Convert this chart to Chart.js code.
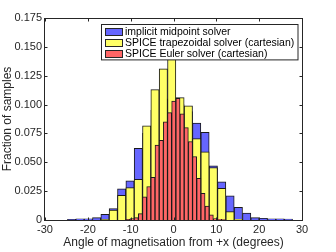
<!DOCTYPE html>
<html>
<head>
<meta charset="utf-8">
<script src="https://cdn.jsdelivr.net/npm/chart.js@4.4.1/dist/chart.umd.min.js"></script>
<style>
  html, body { margin: 0; padding: 0; background: #fff; }
  #wrap { width: 336px; height: 252px; }
</style>
</head>
<body>
<div id="wrap"><canvas id="histChart"></canvas></div>
<script>
// Histogram bins (degrees) and fractions of samples
const wideBinCentres = [
  -23.78, -21.83, -19.89, -17.94, -15.99, -14.05, -12.1, -10.15, -8.21,
  -6.26, -4.32, -2.37, -0.42, 1.52, 3.47, 5.41, 7.36, 9.3, 11.25, 13.2,
  15.14, 17.09, 19.03, 20.98, 22.93, 24.87, 26.82
];
const wideBinWidth = 1.946;

const midpointFractions = [
  0.0005, 0.001, 0.001, 0.002, 0.005, 0.0099, 0.027, 0.034, 0.062,
  0.075, 0.095, 0.105, 0.104, 0.1, 0.094, 0.084, 0.076, 0.047, 0.033, 0.021,
  0.011, 0.006, 0.002, 0.0015, 0.001, 0.001, 0.0008
];

const trapezoidalFractions = [
  null, null, null, null, 0.0005, 0.0087, 0.0214, 0.028, 0.0353,
  0.0815, 0.113, 0.131, 0.162, 0.106, 0.099, 0.0705, 0.059, 0.0455, 0.0275, 0.0072,
  0.0006, null, null, null, null, null, null
];

const eulerBinCentres = [
  -10.64, -9.67, -8.69, -7.72, -6.75, -5.77, -4.8, -3.83, -2.85, -1.88, -0.91, 0.06,
  1.04, 2.01, 2.98, 3.96, 4.93, 5.9, 6.88, 7.85, 8.82, 9.8, 10.77, 11.74
];
const eulerBinWidth = 0.973;

const eulerFractions = [
  0.0005, 0.0012, 0.002, 0.0055, 0.02, 0.029, 0.037, 0.065, 0.069, 0.085, 0.093, 0.103,
  0.1055, 0.092, 0.08, 0.068, 0.055, 0.036, 0.023, 0.012, 0.0045, 0.0012, 0.0006, 0.0003
];

const seriesNames = [
  "implicit midpoint solver",
  "SPICE trapezoidal solver (cartesian)",
  "SPICE Euler solver (cartesian)"
];
const seriesColours = ["rgb(102, 102, 255)", "rgb(255, 255, 102)", "rgb(255, 102, 102)"];

const yTickLabels = ["0", "0.025", "0.050", "0.075", "0.100", "0.125", "0.150", "0.175"];

const FONT = "'Liberation Sans', Arial, sans-serif";
const INK = "#262626";

function toPoints(xs, ys) {
  return xs.map((x, i) => ({ x: x, y: ys[i] }));
}

// Matlab style box with inward ticks on all four sides
const boxPlugin = {
  id: "box",
  afterDatasetsDraw(chart) {
    const { ctx, chartArea, scales } = chart;
    const l = Math.round(chartArea.left) - 0.5;
    const r = Math.round(chartArea.right) + 0.5;
    const t = Math.round(chartArea.top) + 0.5;
    const b = Math.round(chartArea.bottom) + 0.5;
    const len = 3;
    ctx.save();
    ctx.strokeStyle = INK;
    ctx.lineWidth = 1;
    ctx.strokeRect(l, t, r - l, b - t);
    ctx.beginPath();
    scales.x.ticks.forEach((tk) => {
      const px = Math.round(scales.x.getPixelForValue(tk.value)) + 0.5;
      ctx.moveTo(px, b); ctx.lineTo(px, b - len);
      ctx.moveTo(px, t); ctx.lineTo(px, t + len);
    });
    scales.y.ticks.forEach((tk) => {
      const py = Math.round(scales.y.getPixelForValue(tk.value)) + 0.5;
      ctx.moveTo(l, py); ctx.lineTo(l + len, py);
      ctx.moveTo(r, py); ctx.lineTo(r - len, py);
    });
    ctx.stroke();
    ctx.restore();
  },
  afterDraw(chart) {
    // legend box in the upper right of the axes, drawn over the bars
    const { ctx, chartArea } = chart;
    ctx.save();
    ctx.font = "10.5px " + FONT;
    const textW = Math.max(...seriesNames.map((s) => ctx.measureText(s).width));
    const rowH = 10.8;
    const boxR = Math.round(chartArea.right) - 4.5;
    const boxL = Math.round(boxR - textW - 27);
    const boxT = Math.round(chartArea.top) + 6.5;
    const boxB = boxT + rowH * seriesNames.length + 3;
    ctx.fillStyle = "#fff";
    ctx.fillRect(boxL + 0.5, boxT, boxR - boxL, boxB - boxT);
    ctx.strokeStyle = INK;
    ctx.strokeRect(boxL + 0.5, boxT, boxR - boxL, boxB - boxT);
    seriesNames.forEach((name, i) => {
      const cy = boxT + 2 + rowH * i + rowH / 2;
      ctx.fillStyle = seriesColours[i];
      ctx.fillRect(boxL + 4, Math.round(cy - 4), 18, 8);
      ctx.strokeStyle = INK;
      ctx.strokeRect(boxL + 4.5, Math.round(cy - 4) + 0.5, 17, 7);
      ctx.fillStyle = "#000";
      ctx.textBaseline = "middle";
      ctx.textAlign = "left";
      ctx.fillText(name, boxL + 24, cy + 0.5);
    });
    ctx.restore();
  }
};

const chart = new Chart(document.getElementById("histChart"), {
  type: "bar",
  data: {
    datasets: [
      {
        label: seriesNames[2],
        data: toPoints(eulerBinCentres, eulerFractions),
        backgroundColor: seriesColours[2],
        borderColor: "#1a1a1a",
        borderWidth: 1,
        grouped: false,
        order: 1
      },
      {
        label: seriesNames[1],
        data: toPoints(wideBinCentres, trapezoidalFractions),
        backgroundColor: seriesColours[1],
        borderColor: "#1a1a1a",
        borderWidth: 1,
        grouped: false,
        order: 2
      },
      {
        label: seriesNames[0],
        data: toPoints(wideBinCentres, midpointFractions),
        backgroundColor: seriesColours[0],
        borderColor: "#1a1a1a",
        borderWidth: 1,
        grouped: false,
        order: 3
      }
    ]
  },
  options: {
    responsive: true,
    maintainAspectRatio: false,
    animation: false,
    layout: { padding: { left: 0, right: 34, top: 18, bottom: 0 } },
    plugins: {
      legend: { display: false },
      tooltip: { enabled: false }
    },
    scales: {
      x: {
        type: "linear",
        min: -30,
        max: 30,
        offset: false,
        grid: { display: false, drawTicks: false },
        border: { display: false },
        ticks: {
          stepSize: 10,
          padding: 3,
          color: INK,
          font: { family: FONT, size: 11 },
          maxRotation: 0
        },
        title: {
          display: true,
          text: "Angle of magnetisation from +x (degrees)",
          color: INK,
          font: { family: FONT, size: 12 },
          padding: { top: 0, bottom: 2 }
        },
        afterFit(scale) { scale.height = 32; }
      },
      y: {
        min: 0,
        max: 0.175,
        grid: { display: false, drawTicks: false },
        border: { display: false },
        ticks: {
          stepSize: 0.025,
          padding: 3,
          color: INK,
          font: { family: FONT, size: 11 },
          callback: (value, index) => yTickLabels[index]
        },
        title: {
          display: true,
          text: "Fraction of samples",
          color: INK,
          font: { family: FONT, size: 12 },
          padding: { top: 0, bottom: 0 }
        },
        afterFit(scale) { scale.width = 45; }
      }
    }
  },
  plugins: [boxPlugin]
});

// histogram bars span their full bin, so size them from the x scale
const xScale = chart.scales.x;
const unitPx = xScale.getPixelForValue(1) - xScale.getPixelForValue(0);
chart.data.datasets[0].barThickness = eulerBinWidth * unitPx;
chart.data.datasets[1].barThickness = wideBinWidth * unitPx;
chart.data.datasets[2].barThickness = wideBinWidth * unitPx;
chart.update();
</script>
</body>
</html>
